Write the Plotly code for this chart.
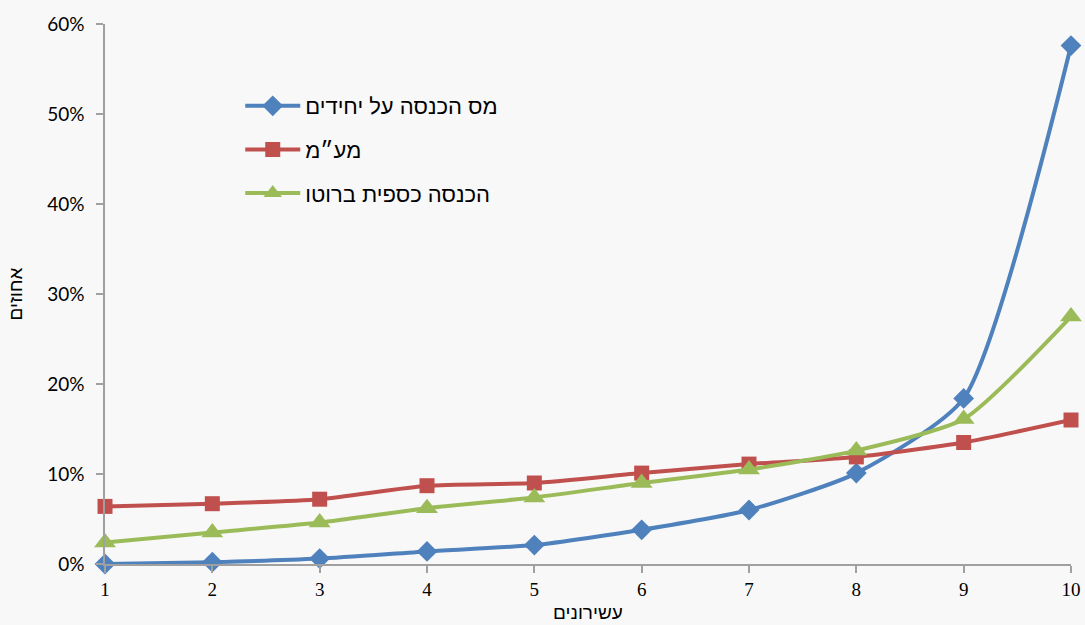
import plotly.graph_objects as go

deciles = [1, 2, 3, 4, 5, 6, 7, 8, 9, 10]
income_tax = [0.000, 0.002, 0.006, 0.014, 0.021, 0.038, 0.060, 0.101, 0.184, 0.576]
vat = [0.064, 0.067, 0.072, 0.087, 0.090, 0.101, 0.111, 0.119, 0.135, 0.160]
gross_income = [0.024, 0.035, 0.046, 0.062, 0.074, 0.090, 0.105, 0.126, 0.161, 0.275]

names = ["מס הכנסה על יחידים", "מע״מ", "הכנסה כספית ברוטו"]
colors = ["#4F81BD", "#C0504D", "#9BBB59"]
symbols = ["diamond", "square", "triangle-up"]
sizes = [16, 15, 19]
series = [income_tax, vat, gross_income]

fig = go.Figure()
for i, (nm, ys) in enumerate(zip(names, series)):
    fig.add_trace(go.Scatter(
        x=deciles, y=ys, name=nm, mode="lines+markers",
        line=dict(color=colors[i], width=4, shape="spline", smoothing=0.6),
        marker=dict(symbol=symbols[i], size=sizes[i], color=colors[i]),
        cliponaxis=False, legendgroup=str(i),
    ))

axis_col = "#A0A0A0"
fig.update_layout(
    width=1085, height=625,
    margin=dict(l=105, r=14, t=24, b=61),
    paper_bgcolor="#F8F8F8", plot_bgcolor="#F8F8F8",
    showlegend=True,
    legend=dict(
        x=0.14, y=0.887, xanchor="left", yanchor="top",
        bgcolor="rgba(0,0,0,0)", font=dict(family="Liberation Sans", size=22, color="#000"),
        tracegroupgap=12, itemwidth=55, traceorder="grouped",
    ),
    xaxis=dict(
        range=[1, 10], tickmode="array", tickvals=deciles,
        ticktext=[str(d) for d in deciles],
        showline=True, linecolor=axis_col, linewidth=1.5,
        ticks="outside", ticklen=7, tickcolor=axis_col, tickwidth=1.5,
        showgrid=False, zeroline=False, automargin=False,
        tickfont=dict(family="Liberation Serif", size=19, color="#000"),
        title=dict(text="עשירונים", font=dict(family="Liberation Sans", size=19, color="#000"), standoff=7),
    ),
    yaxis=dict(
        range=[0, 0.6], dtick=0.1, tickformat=".0%",
        showline=True, linecolor=axis_col, linewidth=1.5,
        ticks="outside", ticklen=7, tickcolor=axis_col, tickwidth=1.5,
        ticklabelstandoff=8, automargin=False,
        showgrid=False, zeroline=False,
        tickfont=dict(family="Lato", size=19, color="#000"),
        title=dict(text="אחוזים", font=dict(family="Liberation Sans", size=19, color="#000"), standoff=20),
    ),
)

fig.write_html("out.html")
